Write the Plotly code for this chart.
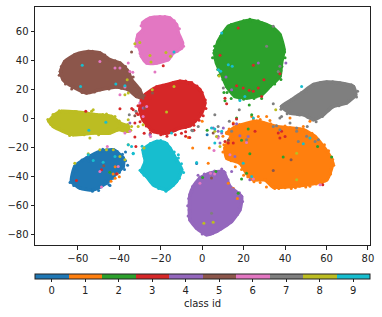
import plotly.graph_objects as go

class_ids = [0, 1, 2, 3, 4, 5, 6, 7, 8, 9]
class_colors = ["#1f77b4", "#ff7f0e", "#2ca02c", "#d62728", "#9467bd",
                "#8c564b", "#e377c2", "#7f7f7f", "#bcbd22", "#17becf"]
x_ticks = [-60, -40, -20, 0, 20, 40, 60, 80]
y_ticks = [-80, -60, -40, -20, 0, 20, 40, 60]
colorbar_title = "class id"

# Dense cluster extents as (x, y) in data units
extent_0 = [(-63.1,-43.2),(-61.5,-32.9),(-55.8,-27.1),(-49.4,-22.5),(-42.9,-21.4),(-38.1,-27.1),(-38.1,-32.9),(-42.1,-38.6),(-46.2,-44.4),(-52.6,-49),(-59,-47.8)]
extent_1 = [(11.8,-9.9),(16.6,-5.3),(26.3,-1.8),(35.9,-5.3),(42.4,-6.4),(48.8,-7.6),(54.4,-12.2),(60.5,-23),(63,-30.6),(60.1,-42.1),(50.4,-45.5),(42.4,-46.7),(34.3,-47.1),(30.3,-42.1),(24.7,-42.1),(21.4,-37.5),(18.2,-30.6),(11.8,-27.1),(11,-20.2),(14.2,-11)]
extent_2 = [(23.1,67.8),(28.7,66),(34.3,62.5),(37.5,58),(39.5,47.6),(38.3,38.4),(37.5,29.2),(32.7,22.3),(28.7,16.6),(21.4,14.3),(15.8,15.4),(11.8,22.3),(9.4,30.4),(6.9,38.4),(6.1,45.3),(7.7,53.3),(12.6,63.7),(18.2,66.4)]
extent_3 = [(-5.9,24.6),(-1.1,20),(1.3,10.8),(-0.3,3.9),(-3.5,-1.8),(-5.9,-4.8),(-10.7,-6.4),(-17.2,-9.9),(-23.6,-8.7),(-28.5,-0.7),(-30.1,6.2),(-28.5,15.4),(-22,21.8),(-17.2,23.5),(-10.7,25.8)]
extent_4 = [(-1.1,-40.9),(3.7,-37.5),(10.2,-36.3),(13.4,-46.7),(19,-53.6),(18.2,-62.8),(14.2,-70.8),(6.9,-77.7),(2.1,-80),(-2.7,-75.4),(-5.9,-69.7),(-6.2,-62.8),(-5.9,-52.4),(-4.3,-46.7)]
extent_5 = [(-68.4,32.6),(-66.3,39.5),(-61.5,44.1),(-55,46.4),(-49.4,45.3),(-44.6,40.7),(-39.7,38.4),(-35.7,32.6),(-34.1,26.9),(-30.1,20),(-28.8,14.2),(-31.7,15.4),(-35.7,20),(-41.3,21.8),(-49.4,20),(-55.8,17.7),(-62.3,21.8),(-67.1,26.9)]
extent_6 = [(-20.4,70.1),(-15.6,69.4),(-12.4,64.8),(-11.5,59.1),(-9.5,52.2),(-9.9,48.7),(-14,45.3),(-16.4,40.7),(-22,38.4),(-26.8,38.4),(-29.3,43),(-30,47.6),(-31.7,52.2),(-30.9,58),(-28.5,61.4),(-28.8,66),(-25.2,69.4)]
extent_7 = [(38.3,8.5),(43.2,13.1),(48,17.7),(53.6,23.5),(60.1,25.3),(66.5,24.6),(73,22.3),(74.1,16.6),(69.7,10.8),(63.3,8.5),(58.5,2.8),(53.6,-0.7),(48.8,2.8),(42.4,3.9)]
extent_8 = [(-73.9,-1.8),(-71.1,2.8),(-67.9,5.1),(-60.7,4.6),(-51,2.8),(-43.8,1.6),(-39.7,-3),(-35.7,-5.3),(-35.7,-8.7),(-40.5,-7.4),(-44.6,-9.9),(-52.6,-9.9),(-62.3,-11),(-67.1,-8.7),(-71.9,-5.3)]
extent_9 = [(-28.5,-21.4),(-25,-17.5),(-22,-15.6),(-18,-16.5),(-15.6,-20.2),(-12.4,-28.3),(-9.9,-35.2),(-12.4,-43.2),(-17.2,-49),(-23.6,-45.5),(-26.8,-39.8),(-29.3,-36.3),(-27.5,-29.4)]
extents = [extent_0, extent_1, extent_2, extent_3, extent_4, extent_5, extent_6, extent_7, extent_8, extent_9]

# Points along each cluster's rough edge
edge_0 = [(-63.8,-44),(-62.5,-38),(-60.5,-36),(-60,-31),(-58,-28.5),(-54,-25.5),(-51.5,-24),(-46,-21.5),(-41,-22.5),(-38.5,-24.5),(-37,-29),(-37.5,-35),(-40,-36.5),(-43,-41),(-44.5,-46),(-47,-43),(-49,-47),(-53,-50),(-56,-48.5),(-60,-47),(-62,-46)]
edge_1 = [(10,-12),(10.5,-18),(10,-23),(12,-25),(14,-29),(17,-28),(19,-35),(20,-39),(25,-43.5),(27,-40.5),(32,-44),(31,-47),(37,-48),(40,-47.5),(43,-48),(47,-46.5),(50,-47),(55,-45),(60,-41),(62,-38),(63.5,-32),(63,-28),(61,-22),(59,-18),(56,-15),(53,-10),(50,-9),(45,-7),(40,-5),(33,-3.5),(28,-0.5),(24,-3),(18,-4),(13,-7)]
edge_2 = [(23,68.5),(27,67.5),(31,65),(35,61),(38,55),(39,50),(40,42),(38.5,36),(38,27),(35,24),(31,20),(26,15),(20,13.5),(14,14),(10.5,18),(10,27),(7.5,34),(5,42),(6,50),(9,57),(14,65),(20,67.5)]
edge_3 = [(-5,25),(-2.5,22.5),(0,18),(1.5,13),(1.8,7),(0.5,2),(-1.5,-1),(-4,-4.5),(-8,-6),(-13,-8),(-19,-10.5),(-25,-8),(-27,-5),(-30,-2),(-31,3),(-31,9),(-29.5,13),(-26,17),(-23,20),(-19,23),(-14,25),(-8,26)]
edge_4 = [(-2,-39),(1,-38),(6,-36),(11,-37),(12.5,-42),(15,-48),(18,-51),(19.5,-57),(18,-61),(17,-66),(12,-73),(9,-76),(5,-79),(0,-79.5),(-4,-72),(-6.8,-67),(-7,-60),(-6.5,-55),(-5,-50),(-3,-44)]
edge_5 = [(-69,30),(-68,36),(-64,41),(-59,45),(-53,46.5),(-47,44),(-42,40),(-37,36),(-33,25),(-28,16),(-33,18),(-39,21),(-45,20.5),(-52,18.5),(-58,18),(-63,20.5),(-66,24)]
edge_6 = [(-23,70),(-18,70.5),(-13.5,67.5),(-11,62),(-10.5,55),(-9,50),(-12,46.5),(-15,43),(-19,39.5),(-24,38),(-28,40),(-30,45),(-32,50),(-31.5,55),(-29,60),(-29.5,64),(-27,68)]
edge_7 = [(38,6.5),(41,10),(45,15),(50,19),(53,22),(57,25),(63,25.5),(69,24),(72,23.5),(75,19),(74.5,15),(71,12.5),(66,9),(61,6),(58,1.5),(55,-2),(51,1),(46,3),(41,3.5)]
edge_8 = [(-74.5,-0.5),(-72,3),(-69,5.5),(-64,5),(-57,4),(-48,3),(-40,-1.5),(-36,-4),(-34.5,-8),(-41,-8),(-46,-10),(-50,-11),(-57,-11),(-64,-11.5),(-69,-7),(-73,-4)]
edge_9 = [(-29,-19),(-25,-17),(-20,-15),(-17,-17),(-13.5,-23),(-11.5,-27),(-10,-31),(-9,-37),(-11,-41),(-14,-46),(-17.5,-50),(-21,-48),(-25,-43),(-28,-39),(-30,-35.5),(-27.5,-32),(-28,-26)]
edges = [edge_0, edge_1, edge_2, edge_3, edge_4, edge_5, edge_6, edge_7, edge_8, edge_9]

# Individually visible points as (x, y) in data units
points_0 = [(-2.7,-30.8),(2.4,-11),(-55,-29),(-52,-26),(-48,-21),(-37,-23),(-36,-32),(-63,-41),(-61,-36),(-50,-49.5),(-45,-45.5),(-40,-37)]
points_1 = [(-43,-38),(-41,-38),(-42,-41),(-40,-40),(-42,-33),(-44,-43),(-6.7,-12.9),(-4.6,-20.2),(0,-1.8),(2.9,-30.6),(23.9,1.6),(31.1,1.6),(27.1,1.6),(32.7,-1.2),(24.7,-0.2),(15,-3),(48.8,-5.3),(52,-1.8),(42.4,0.5),(3.4,-20.2),(35,-48),(45,-47.5),(52,-46.5),(58,-44),(62,-35),(62.5,-27),(58,-20),(52,-13),(47,-9),(38,-6),(30,-3),(20,-5),(15,-12),(13,-25),(16,-33),(22,-40),(28,-44),(12.6,-44.4),(15,-48),(17,-55)]
points_2 = [(6.1,41.8),(5.6,45.3),(11,12.4),(22.7,9.4),(28.7,14),(23.9,2.8),(16.6,0.5),(2.4,-8),(22.2,-7.1),(19,-14.9),(23,-24.1),(39.1,-26.4),(62.5,-26.4),(55.7,-19.1),(19,-41.6),(21.4,-37.5),(17.4,-51.3),(6.6,-36.3),(0.2,-40.5),(-44.6,-36.8),(39.8,46),(38,33),(33,23),(5.8,47),(8,30),(12,18),(18,14),(25,14)]
points_3 = [(-33.3,6.2),(-31.7,3.9),(-34,7),(-39.7,6.9),(-32.5,-3),(-26.8,17.2),(-25.2,14.3),(-18.8,36.6),(-56.2,5.1),(-32.5,-12.6),(-20,-11),(-17,-12),(-13,-11),(-10,-10),(-8,-9),(-6,-13),(-8,-12),(-4,-8),(-25,-10),(-28,-10),(-32,-19.1),(-60.7,-42.5),(-48.6,-35.2),(-41.3,-37.9),(17.4,62.5),(8.6,43.7),(24.7,36.8),(29.8,26.9),(37.5,31),(16.6,22.8),(19.8,21.2),(22.7,19.6),(24.7,18.9),(27.1,21.2),(28.7,15.4),(11,14.2),(11.8,10.4),(16.6,-0.2),(15,-3.7),(37.5,-13.3),(36.7,-9.9),(40,-12.2),(38.3,-8.7),(25.5,-8.7),(11,-15.6),(12.6,-16.8),(15,-16.8),(58.2,-45.5)]
points_4 = [(7.7,-8.7),(9.4,-9.9),(7.7,-12.2),(5.3,-6.4),(10.2,-6.4),(8.6,-16.7),(16.6,-3.4),(18.2,-11.7),(22.2,-12.2),(27.1,38.4),(40.4,38.4),(11.5,28.7),(14.2,20),(14.2,-36.3),(15.8,-26),(23,-42.1),(-25.2,-11),(-28.5,7.4),(-34.9,-3),(-4.6,-46.7),(9.4,-34.7),(15,-48.5)]
points_5 = [(4.5,-40.9),(42.9,-28.3),(34.3,-35.6),(-47.5,-32.4),(-24,17.7),(-34.1,46),(-33.3,28.7),(-32.5,2.1),(-27.7,7.4),(-32.5,22.8),(-30.4,17),(5.3,-9.9),(12.6,-14.9)]
points_6 = [(-49.4,39.5),(-42.1,34.9),(-39.7,34.9),(-35.7,38.4),(-34.9,32.6),(-33.5,32),(-22.8,32.2),(-37.3,21.8),(-39.7,16.6),(-37.3,-9.9),(-34.9,-8.7),(-26.8,8.5),(-28.5,1.6),(-30.1,10.8),(-24.9,-12.2),(-48.6,-47.1),(-49.4,-36.3),(-45.8,-19.1),(-40.5,-32.9),(5.7,-21.8),(7.7,-13.3),(21.4,-16.3),(13.4,-24.8),(-1.1,-44.4),(4,-37.5),(6,-38),(56.9,-45.5),(24.7,-41.6)]
points_7 = [(-35.2,2.8),(-32,5.1),(34.3,10.3),(17.9,6.2),(10.2,21.2),(34.3,63.7),(31.1,49.9),(37.5,36.1),(36.7,32.6),(-5,-8),(-1.9,-5.3),(34.3,-5.3),(35.9,-4.8),(37.5,-7.6),(45.6,-6.4),(50.7,-5.3),(52,2.8),(47,2.5),(38.3,1.6),(37.5,0.5),(42.4,-3),(45.6,-8.7),(6.1,2.8),(13.1,-1.8),(7.7,-5.3),(14.2,-8.7),(21.4,-14.5),(46.4,-15.6),(54.5,-15.6),(56.1,-14.5),(50.4,-12.1),(4.5,-65.1),(-4.6,-8.3)]
points_8 = [(-61.5,5),(-53.4,5.1),(-52.6,6.2),(-46.2,3.2),(-42.1,1.6),(-38.9,-5.3),(-34.1,-5.3),(-30.9,-5.3),(-28.5,-4.1),(-35.7,-0.7),(-37.3,16.6),(-35.7,17.7),(-36.2,26.9),(-24.1,20),(-32.5,51.7),(-30.1,52.6),(-25.2,43.5),(-24.7,39.1),(-17.5,45.7),(-15.3,43),(-13.6,22.3),(-17.2,4.6),(-54.2,-13.3),(-55,-24.2),(-61.5,-30.6),(-49.4,-21.4),(-46.2,-21.4),(-42.9,-21.4),(-39.7,-26),(-37.3,-28.3),(-35.7,-17.9),(-28.1,-20.2),(8.2,29.5),(35.5,6.2),(6.1,-8.7),(6.9,-12.2),(8.6,-19.1),(45.6,-23.7),(0.8,-72),(5.3,-71.3),(45.6,-42.1)]
points_9 = [(-57.9,36.8),(-58.7,22.3),(-41.7,23.9),(-37.3,22.8),(-54.7,-8),(-46.5,-2.5),(-35.7,-17.9),(-33.3,-23.7),(-13.6,46),(-14.8,-9.9),(-52.6,-28.7),(-47.8,-29.9),(-42.1,-26),(-34.1,-19.1),(-33.3,-24.2),(-55,-24.8),(-11.5,-24.8),(48,22.3),(7.8,33.8),(8.9,32.7),(12.6,37.2),(14.5,36.1),(18.2,12.6),(20.6,15.4),(24.7,0.5),(9.4,59.1),(4.5,-6.4),(6.1,-7.1),(9.4,-8.7),(6.1,-16.8),(48.8,-17.2),(52,-13.3),(-2.7,-30.2),(23.9,-39.8),(19.8,-30.6)]
point_sets = [points_0, points_1, points_2, points_3, points_4, points_5, points_6, points_7, points_8, points_9]

n = len(class_ids)
colorscale = []
for i, c in enumerate(class_colors):
    colorscale += [[i / n, c], [(i + 1) / n, c]]

fig = go.Figure()
for cid, ext in zip(class_ids, extents):
    closed = ext + ext[:1]
    fig.add_trace(go.Scatter(
        x=[p[0] for p in closed], y=[p[1] for p in closed],
        mode="lines+markers", fill="toself", fillcolor=class_colors[cid],
        line=dict(color=class_colors[cid], width=3.5, shape="spline", smoothing=0.5),
        marker=dict(color=class_colors[cid], size=3.5),
        hoverinfo="skip", showlegend=False))

px, py, pc = [], [], []
for group in (edges, point_sets):
    for cid, pts in zip(class_ids, group):
        for a, b in pts:
            px.append(a); py.append(b); pc.append(cid)

fig.add_trace(go.Scatter(
    x=px, y=py, mode="markers", showlegend=False,
    marker=dict(size=3, color=pc, cmin=-0.5, cmax=9.5, colorscale=colorscale, line=dict(width=0),
                colorbar=dict(orientation="h", x=0, xanchor="left", y=-0.12, yanchor="top",
                              len=1, lenmode="fraction", thickness=5, thicknessmode="pixels",
                              xpad=0, ypad=0, outlinecolor="#222", outlinewidth=1,
                              tickmode="array", tickvals=class_ids, ticktext=[str(i) for i in class_ids],
                              ticks="outside", ticklen=3, tickwidth=0.8, tickcolor="#222",
                              tickfont=dict(family="DejaVu Sans", size=10, color="#222"),
                              title=dict(text=colorbar_title, side="bottom",
                                         font=dict(family="DejaVu Sans", size=10, color="#222"))))))

axis = dict(showgrid=False, zeroline=False, showline=True, mirror=True, linecolor="#222", linewidth=1,
            ticks="outside", ticklen=3.5, tickwidth=0.8, tickcolor="#222",
            tickfont=dict(family="DejaVu Sans", size=10, color="#222"))
fig.update_xaxes(range=[-80.7, 81], tickvals=x_ticks, **axis)
fig.update_yaxes(range=[-87, 77], tickvals=y_ticks, **axis)
fig.update_layout(width=382, height=317, paper_bgcolor="white", plot_bgcolor="white",
                  margin=dict(l=35.3, r=11.7, t=7, b=71.7, autoexpand=False))
fig.write_html("out.html", config={"displayModeBar": False}, post_script="document.body.style.margin='0';")
